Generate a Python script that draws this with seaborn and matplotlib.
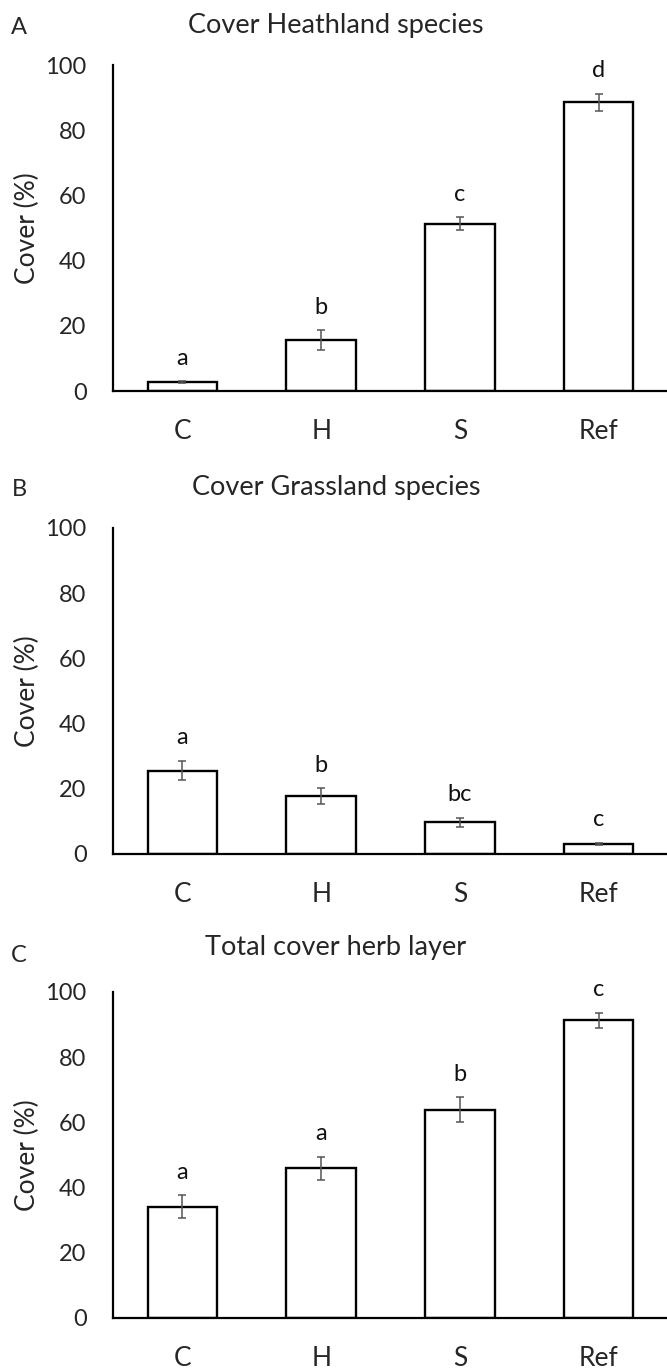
import matplotlib
matplotlib.use("Agg")
import matplotlib.pyplot as plt
import seaborn as sns
import pandas as pd

# ---- data ----
categories = ["C", "H", "S", "Ref"]

heath_mean = [2.8, 15.7, 51.3, 88.5]
heath_err = [0.3, 3.0, 2.0, 2.7]
heath_letters = ["a", "b", "c", "d"]

grass_mean = [25.6, 17.7, 9.7, 3.1]
grass_err = [3.0, 2.4, 1.4, 0.4]
grass_letters = ["a", "b", "bc", "c"]

total_mean = [34.2, 45.9, 63.9, 91.4]
total_err = [3.4, 3.6, 3.8, 2.3]
total_letters = ["a", "a", "b", "c"]

panels = [
    ("A", "Cover Heathland species", heath_mean, heath_err, heath_letters),
    ("B", "Cover Grassland species", grass_mean, grass_err, grass_letters),
    ("C", "Total cover herb layer", total_mean, total_err, total_letters),
]

sns.set_style("white")
plt.rcParams["font.family"] = ["Lato", "DejaVu Sans"]

W, H = 667, 1369
fig = plt.figure(figsize=(W / 100, H / 100), dpi=100)

# pixel layout: (axis top, axis bottom, title y, tag y)
layout = [(65, 391, 25, 27), (528, 854, 488, 490), (992, 1318, 948, 955)]
ax_left, ax_right = 113, 668

for (tag, title, mean, err, letters), (top, bot, ty, ly) in zip(panels, layout):
    ax = fig.add_axes([ax_left / W, 1 - bot / H, (ax_right - ax_left) / W, (bot - top) / H])
    df = pd.DataFrame({"group": categories, "cover": mean})
    sns.barplot(data=df, x="group", y="cover", ax=ax, color="white",
                edgecolor="black", linewidth=1.7, width=0.5, errorbar=None)
    ax.errorbar(range(len(categories)), mean, yerr=err, fmt="none",
                ecolor="#555555", elinewidth=1.1, capsize=3, capthick=1.1)
    for i, (m, e, l) in enumerate(zip(mean, err, letters)):
        ax.text(i, m + e + 7, l, ha="center", va="center", fontsize=17, color="#111111")

    ax.set_xlim(-0.5, 3.5)
    ax.set_ylim(0, 100)
    ax.set_yticks([0, 20, 40, 60, 80, 100])
    ax.set_xlabel("")
    ax.set_ylabel("Cover (%)", fontsize=19)
    ax.yaxis.set_label_coords(-0.1315, 0.5)
    ax.tick_params(axis="y", length=0, pad=19, labelsize=17)
    ax.tick_params(axis="x", length=0, pad=20, labelsize=19)
    sns.despine(ax=ax)
    for side in ["left", "bottom"]:
        ax.spines[side].set_linewidth(1.6)
        ax.spines[side].set_color("black")

    fig.text(336 / W, 1 - ty / H, title, ha="center", va="center", fontsize=19.5)
    fig.text(19 / W, 1 - ly / H, tag, ha="center", va="center", fontsize=17)

fig.savefig("out.png", dpi=100, facecolor="white")
